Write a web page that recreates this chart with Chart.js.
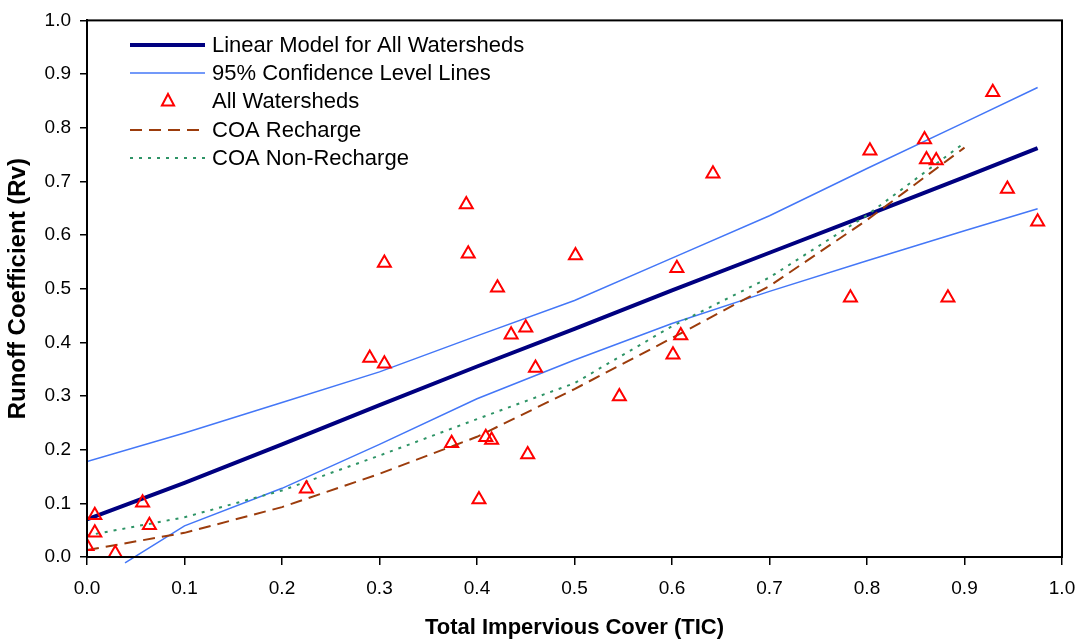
<!DOCTYPE html>
<html>
<head>
<meta charset="utf-8">
<script src="https://cdn.jsdelivr.net/npm/chart.js@4.4.0/dist/chart.umd.min.js"></script>
<style>
  html, body { margin: 0; padding: 0; background: #fff; }
  #wrap { width: 1082px; height: 642px; }
</style>
</head>
<body>
<div id="wrap"><canvas id="runoffChart" width="1082" height="642"></canvas></div>
<script>
// Values
const axisTicks = [0.0, 0.1, 0.2, 0.3, 0.4, 0.5, 0.6, 0.7, 0.8, 0.9, 1.0];

const lineX = [0, 0.1, 0.2, 0.3, 0.4, 0.5, 0.6, 0.7, 0.8, 0.9, 0.975];
const linearModel = [0.07, 0.138, 0.21, 0.283, 0.355, 0.425, 0.497, 0.567, 0.637, 0.708, 0.762];
const upperCI = [0.178, 0.231, 0.288, 0.345, 0.412, 0.478, 0.557, 0.636, 0.724, 0.81, 0.875];

const lowerX = [0.039, 0.1, 0.2, 0.3, 0.4, 0.5, 0.6, 0.7, 0.8, 0.9, 0.975];
const lowerCI = [-0.011, 0.058, 0.128, 0.21, 0.295, 0.367, 0.435, 0.495, 0.552, 0.608, 0.649];

const coaX = [0, 0.1, 0.2, 0.3, 0.4, 0.5, 0.6, 0.7, 0.8, 0.9];
const coaRecharge = [0.013, 0.045, 0.093, 0.155, 0.224, 0.313, 0.408, 0.505, 0.628, 0.763];
const coaNonRecharge = [0.04, 0.074, 0.124, 0.189, 0.257, 0.324, 0.43, 0.521, 0.637, 0.772];

const wsX = [0.0, 0.008, 0.008, 0.029, 0.057, 0.064, 0.225, 0.29, 0.305, 0.305, 0.374, 0.389,
  0.391, 0.402, 0.409, 0.415, 0.421, 0.435, 0.45, 0.452, 0.46, 0.501, 0.546, 0.601, 0.605,
  0.609, 0.642, 0.783, 0.803, 0.859, 0.861, 0.871, 0.883, 0.929, 0.944, 0.975];
const wsY = [0.02, 0.078, 0.045, 0.007, 0.101, 0.059, 0.127, 0.371, 0.548, 0.36, 0.212, 0.657,
  0.565, 0.107, 0.223, 0.218, 0.502, 0.414, 0.427, 0.191, 0.352, 0.562, 0.299, 0.377, 0.538,
  0.413, 0.714, 0.483, 0.757, 0.778, 0.741, 0.739, 0.483, 0.866, 0.686, 0.625];

const legendLabels = ['Linear Model for All Watersheds', '95% Confidence Level Lines',
  'All Watersheds', 'COA Recharge', 'COA Non-Recharge'];

function toPoints(xs, ys) {
  return xs.map((x, i) => ({ x: x, y: ys[i] }));
}

const FONT = "'Liberation Sans', Arial, sans-serif";

// full box round the plot area
const frame = {
  id: 'frame',
  afterDraw(chart) {
    const a = chart.chartArea;
    const ctx = chart.ctx;
    ctx.save();
    ctx.strokeStyle = '#000';
    ctx.lineWidth = 2;
    ctx.strokeRect(a.left, a.top, a.right - a.left, a.bottom - a.top);
    ctx.restore();
  }
};

// legend drawn inside the plot, top left (first five datasets)
const insideLegend = {
  id: 'insideLegend',
  afterDraw(chart) {
    const ctx = chart.ctx;
    const rows = [45, 73, 101, 130, 158];
    ctx.save();
    ctx.font = '22px ' + FONT;
    ctx.textBaseline = 'middle';
    ctx.fillStyle = '#000';
    legendLabels.forEach((label, i) => {
      const ds = chart.data.datasets[i];
      const y = rows[i];
      if (ds.showLine) {
        ctx.beginPath();
        ctx.strokeStyle = ds.borderColor;
        ctx.lineWidth = ds.borderWidth;
        ctx.setLineDash(ds.borderDash || []);
        ctx.moveTo(130, y);
        ctx.lineTo(205, y);
        ctx.stroke();
        ctx.setLineDash([]);
      } else {
        const r = 7;
        ctx.beginPath();
        ctx.strokeStyle = ds.pointBorderColor;
        ctx.lineWidth = 2;
        ctx.moveTo(168, y - r);
        ctx.lineTo(168 + r * 0.87, y + r * 0.5 + 1);
        ctx.lineTo(168 - r * 0.87, y + r * 0.5 + 1);
        ctx.closePath();
        ctx.stroke();
      }
      ctx.fillText(label, 212, y + 1);
    });
    ctx.restore();
  }
};

document.addEventListener('DOMContentLoaded', function() {
  const ctx = document.getElementById('runoffChart').getContext('2d');

  new Chart(ctx, {
    type: 'scatter',
    data: {
      datasets: [{
        label: legendLabels[0],
        data: toPoints(lineX, linearModel),
        showLine: true,
        borderColor: '#000080',
        borderWidth: 4,
        pointRadius: 0,
        order: 2
      }, {
        label: legendLabels[1],
        data: toPoints(lineX, upperCI),
        showLine: true,
        borderColor: '#4477f7',
        borderWidth: 1.5,
        pointRadius: 0,
        order: 3
      }, {
        label: legendLabels[2],
        data: toPoints(wsX, wsY),
        showLine: false,
        pointStyle: 'triangle',
        pointRadius: 7.5,
        pointBorderWidth: 2,
        pointBorderColor: '#ff0000',
        pointBackgroundColor: 'rgba(255,255,255,0)',
        order: 0
      }, {
        label: legendLabels[3],
        data: toPoints(coaX, coaRecharge),
        showLine: true,
        borderColor: '#9c3c0c',
        borderWidth: 2,
        borderDash: [12, 7],
        pointRadius: 0,
        order: 1
      }, {
        label: legendLabels[4],
        data: toPoints(coaX, coaNonRecharge),
        showLine: true,
        borderColor: '#2e9466',
        borderWidth: 2,
        borderDash: [3, 6],
        pointRadius: 0,
        order: 1
      }, {
        // lower confidence line, shares the legend entry above
        label: 'lower',
        data: toPoints(lowerX, lowerCI),
        showLine: true,
        borderColor: '#4477f7',
        borderWidth: 1.5,
        pointRadius: 0,
        clip: { left: 0, top: 0, right: 0, bottom: 8 },
        order: 3
      }]
    },
    options: {
      responsive: false,
      animation: false,
      layout: { padding: { left: 0, top: 17, right: 20, bottom: 0 } },
      scales: {
        x: {
          type: 'linear',
          min: 0,
          max: 1,
          afterBuildTicks: (scale) => { scale.ticks = axisTicks.map(v => ({ value: v })); },
          afterFit: (scale) => {
            scale.height = 85;
            scale.paddingRight = 0;
            scale.paddingLeft = 0;
          },
          grid: { drawOnChartArea: false, drawTicks: true, tickLength: 8, color: '#000', lineWidth: 1.5 },
          border: { display: true, color: '#000', width: 2 },
          ticks: {
            color: '#000',
            padding: 12,
            maxRotation: 0,
            font: { family: FONT, size: 19 },
            callback: (v) => Number(v).toFixed(1)
          },
          title: {
            display: true,
            text: 'Total Impervious Cover (TIC)',
            color: '#000',
            padding: { top: 10, bottom: 1 },
            font: { family: FONT, size: 22, weight: 'bold' }
          }
        },
        y: {
          type: 'linear',
          min: 0,
          max: 1,
          afterBuildTicks: (scale) => { scale.ticks = axisTicks.map(v => ({ value: v })); },
          afterFit: (scale) => { scale.width = 87; },
          grid: { drawOnChartArea: false, drawTicks: true, tickLength: 7, color: '#000', lineWidth: 1.5 },
          border: { display: true, color: '#000', width: 2 },
          ticks: {
            color: '#000',
            padding: 9,
            font: { family: FONT, size: 19 },
            callback: (v) => Number(v).toFixed(1)
          },
          title: {
            display: true,
            text: 'Runoff Coefficient (Rv)',
            color: '#000',
            padding: { top: 4, bottom: 4 },
            font: { family: FONT, size: 24, weight: 'bold' }
          }
        }
      },
      plugins: {
        legend: { display: false },
        tooltip: { enabled: false }
      }
    },
    plugins: [frame, insideLegend]
  });
});
</script>
</body>
</html>
